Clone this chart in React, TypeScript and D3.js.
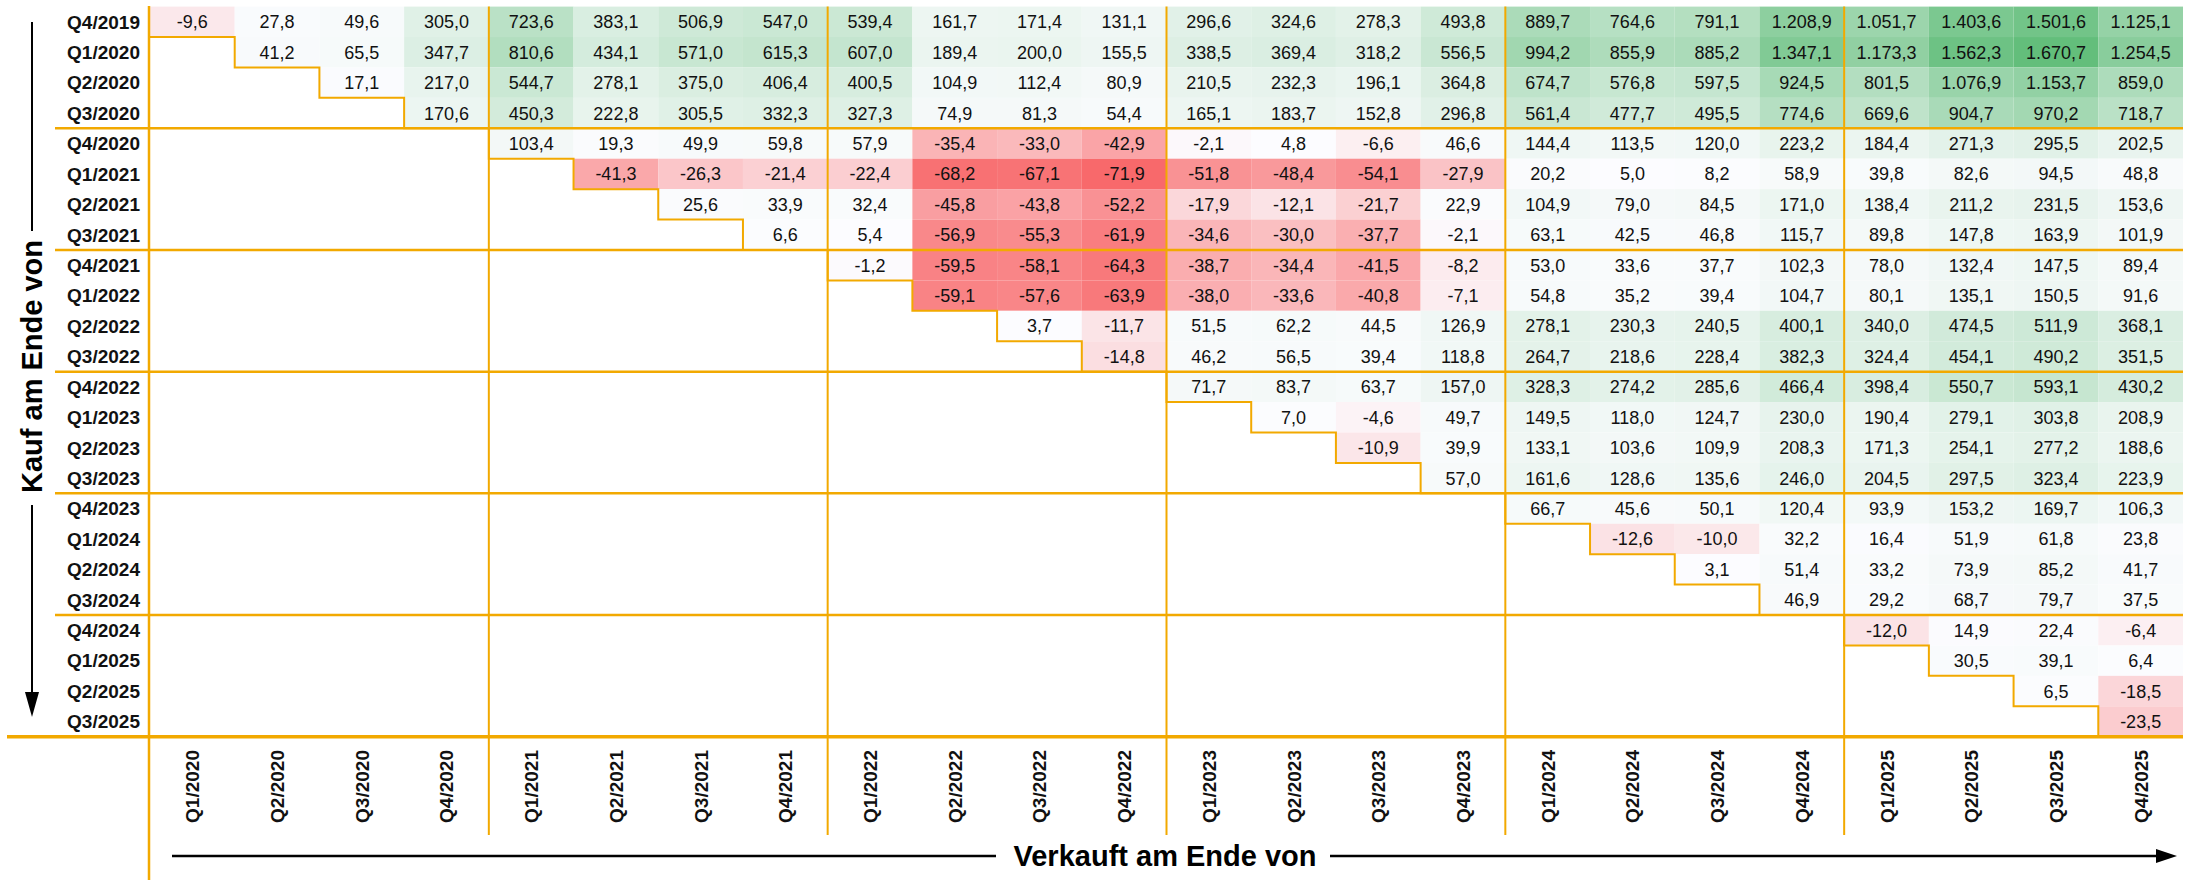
import React from 'react';
import * as d3 from 'd3';

// Kaufzeitpunkt (Zeilen) und Verkaufszeitpunkt (Spalten)
const buyQuarters = [
  'Q4/2019', 'Q1/2020', 'Q2/2020', 'Q3/2020',
  'Q4/2020', 'Q1/2021', 'Q2/2021', 'Q3/2021',
  'Q4/2021', 'Q1/2022', 'Q2/2022', 'Q3/2022',
  'Q4/2022', 'Q1/2023', 'Q2/2023', 'Q3/2023',
  'Q4/2023', 'Q1/2024', 'Q2/2024', 'Q3/2024',
  'Q4/2024', 'Q1/2025', 'Q2/2025', 'Q3/2025',
];

const sellQuarters = [
  'Q1/2020', 'Q2/2020', 'Q3/2020', 'Q4/2020',
  'Q1/2021', 'Q2/2021', 'Q3/2021', 'Q4/2021',
  'Q1/2022', 'Q2/2022', 'Q3/2022', 'Q4/2022',
  'Q1/2023', 'Q2/2023', 'Q3/2023', 'Q4/2023',
  'Q1/2024', 'Q2/2024', 'Q3/2024', 'Q4/2024',
  'Q1/2025', 'Q2/2025', 'Q3/2025', 'Q4/2025',
];

// each row starts at the sell quarter right after the buy quarter
const buyQ4_2019 = [-9.6, 27.8, 49.6, 305.0, 723.6, 383.1, 506.9, 547.0, 539.4, 161.7, 171.4, 131.1, 296.6, 324.6, 278.3, 493.8, 889.7, 764.6, 791.1, 1208.9, 1051.7, 1403.6, 1501.6, 1125.1];
const buyQ1_2020 = [41.2, 65.5, 347.7, 810.6, 434.1, 571.0, 615.3, 607.0, 189.4, 200.0, 155.5, 338.5, 369.4, 318.2, 556.5, 994.2, 855.9, 885.2, 1347.1, 1173.3, 1562.3, 1670.7, 1254.5];
const buyQ2_2020 = [17.1, 217.0, 544.7, 278.1, 375.0, 406.4, 400.5, 104.9, 112.4, 80.9, 210.5, 232.3, 196.1, 364.8, 674.7, 576.8, 597.5, 924.5, 801.5, 1076.9, 1153.7, 859.0];
const buyQ3_2020 = [170.6, 450.3, 222.8, 305.5, 332.3, 327.3, 74.9, 81.3, 54.4, 165.1, 183.7, 152.8, 296.8, 561.4, 477.7, 495.5, 774.6, 669.6, 904.7, 970.2, 718.7];
const buyQ4_2020 = [103.4, 19.3, 49.9, 59.8, 57.9, -35.4, -33.0, -42.9, -2.1, 4.8, -6.6, 46.6, 144.4, 113.5, 120.0, 223.2, 184.4, 271.3, 295.5, 202.5];
const buyQ1_2021 = [-41.3, -26.3, -21.4, -22.4, -68.2, -67.1, -71.9, -51.8, -48.4, -54.1, -27.9, 20.2, 5.0, 8.2, 58.9, 39.8, 82.6, 94.5, 48.8];
const buyQ2_2021 = [25.6, 33.9, 32.4, -45.8, -43.8, -52.2, -17.9, -12.1, -21.7, 22.9, 104.9, 79.0, 84.5, 171.0, 138.4, 211.2, 231.5, 153.6];
const buyQ3_2021 = [6.6, 5.4, -56.9, -55.3, -61.9, -34.6, -30.0, -37.7, -2.1, 63.1, 42.5, 46.8, 115.7, 89.8, 147.8, 163.9, 101.9];
const buyQ4_2021 = [-1.2, -59.5, -58.1, -64.3, -38.7, -34.4, -41.5, -8.2, 53.0, 33.6, 37.7, 102.3, 78.0, 132.4, 147.5, 89.4];
const buyQ1_2022 = [-59.1, -57.6, -63.9, -38.0, -33.6, -40.8, -7.1, 54.8, 35.2, 39.4, 104.7, 80.1, 135.1, 150.5, 91.6];
const buyQ2_2022 = [3.7, -11.7, 51.5, 62.2, 44.5, 126.9, 278.1, 230.3, 240.5, 400.1, 340.0, 474.5, 511.9, 368.1];
const buyQ3_2022 = [-14.8, 46.2, 56.5, 39.4, 118.8, 264.7, 218.6, 228.4, 382.3, 324.4, 454.1, 490.2, 351.5];
const buyQ4_2022 = [71.7, 83.7, 63.7, 157.0, 328.3, 274.2, 285.6, 466.4, 398.4, 550.7, 593.1, 430.2];
const buyQ1_2023 = [7.0, -4.6, 49.7, 149.5, 118.0, 124.7, 230.0, 190.4, 279.1, 303.8, 208.9];
const buyQ2_2023 = [-10.9, 39.9, 133.1, 103.6, 109.9, 208.3, 171.3, 254.1, 277.2, 188.6];
const buyQ3_2023 = [57.0, 161.6, 128.6, 135.6, 246.0, 204.5, 297.5, 323.4, 223.9];
const buyQ4_2023 = [66.7, 45.6, 50.1, 120.4, 93.9, 153.2, 169.7, 106.3];
const buyQ1_2024 = [-12.6, -10.0, 32.2, 16.4, 51.9, 61.8, 23.8];
const buyQ2_2024 = [3.1, 51.4, 33.2, 73.9, 85.2, 41.7];
const buyQ3_2024 = [46.9, 29.2, 68.7, 79.7, 37.5];
const buyQ4_2024 = [-12.0, 14.9, 22.4, -6.4];
const buyQ1_2025 = [30.5, 39.1, 6.4];
const buyQ2_2025 = [6.5, -18.5];
const buyQ3_2025 = [-23.5];

const rows = [
  buyQ4_2019, buyQ1_2020, buyQ2_2020, buyQ3_2020,
  buyQ4_2020, buyQ1_2021, buyQ2_2021, buyQ3_2021,
  buyQ4_2021, buyQ1_2022, buyQ2_2022, buyQ3_2022,
  buyQ4_2022, buyQ1_2023, buyQ2_2023, buyQ3_2023,
  buyQ4_2023, buyQ1_2024, buyQ2_2024, buyQ3_2024,
  buyQ4_2024, buyQ1_2025, buyQ2_2025, buyQ3_2025,
];

const W = 2199;
const H = 880;
const ORANGE = '#F2A900';
const FONT = '"Liberation Sans", Arial, sans-serif';

const de = d3.formatLocale({ decimal: ',', thousands: '.', grouping: [3], currency: ['', ''], minus: '-' });
const fmt = de.format(',.1f');

export default function App() {
  const x = d3.scaleBand().domain(sellQuarters).range([150, 2183]);
  const y = d3.scaleBand().domain(buyQuarters).range([6.6, 736.7]);
  const bw = x.bandwidth();
  const bh = y.bandwidth();

  const cells = rows.flatMap((vals, i) =>
    vals.map((v, k) => ({ buy: buyQuarters[i], sell: sellQuarters[i + k], v }))
  );
  const all = cells.map(c => c.v);
  const color = d3.scaleLinear<string>()
    .domain([d3.min(all)!, 0, d3.max(all)!])
    .range(['#F8696B', '#FCFCFF', '#63BE7B']);

  // staircase along the diagonal
  let stair = `M${x(sellQuarters[0])},${y(buyQuarters[0])! + bh}`;
  buyQuarters.forEach((b, i) => {
    stair += `H${x(sellQuarters[i])! + bw}`;
    if (i < buyQuarters.length - 1) stair += `V${y(buyQuarters[i + 1])! + bh}`;
  });

  const groupRows = [4, 8, 12, 16, 20].map(i => y(buyQuarters[i])!);
  const groupCols = [4, 8, 12, 16, 20].map(i => x(sellQuarters[i])!);
  const bottom = y(buyQuarters[23])! + bh;
  const right = x(sellQuarters[23])! + bw;

  return (
    <svg width={W} height={H} style={{ position: 'absolute', left: 0, top: 0, background: '#fff' }}
      fontFamily={FONT}>
      {cells.map((c, i) => (
        <g key={i}>
          <rect x={x(c.sell)} y={y(c.buy)} width={bw} height={bh} fill={color(c.v)} />
          <text x={x(c.sell)! + bw / 2} y={y(c.buy)! + bh / 2} dy="0.36em" textAnchor="middle"
            fontSize={18} fill="#111">{fmt(c.v)}</text>
        </g>
      ))}

      {buyQuarters.map(b => (
        <text key={b} x={140} y={y(b)! + bh / 2} dy="0.36em" textAnchor="end"
          fontSize={19} fontWeight="bold" fill="#111">{b}</text>
      ))}

      {sellQuarters.map(s => (
        <text key={s} transform={`translate(${x(s)! + bw / 2 + 7},750) rotate(-90)`} textAnchor="end"
          fontSize={19} fontWeight="bold" fill="#111">{s}</text>
      ))}

      <path d={stair} fill="none" stroke={ORANGE} strokeWidth={2} />
      {groupRows.map((gy, i) => (
        <line key={'r' + i} x1={55} x2={right} y1={gy} y2={gy} stroke={ORANGE} strokeWidth={2.5} />
      ))}
      {groupCols.map((gx, i) => (
        <line key={'c' + i} x1={gx} x2={gx} y1={6.6} y2={835} stroke={ORANGE} strokeWidth={2} />
      ))}
      <line x1={149} x2={149} y1={6} y2={H} stroke={ORANGE} strokeWidth={2.5} />
      <line x1={7} x2={right} y1={bottom} y2={bottom} stroke={ORANGE} strokeWidth={3.5} />

      {/* y axis title */}
      <line x1={32} x2={32} y1={22} y2={231} stroke="#000" strokeWidth={2} />
      <text transform="translate(42,366.5) rotate(-90)" textAnchor="middle" fontSize={29}
        fontWeight="bold" fill="#000">Kauf am Ende von</text>
      <line x1={32} x2={32} y1={505} y2={700} stroke="#000" strokeWidth={2} />
      <path d="M25,692 L39,692 L32,717 Z" fill="#000" />

      {/* x axis title */}
      <line x1={172} x2={996} y1={856} y2={856} stroke="#000" strokeWidth={2.5} />
      <text x={1165} y={866} textAnchor="middle" fontSize={29} fontWeight="bold" fill="#000">
        Verkauft am Ende von
      </text>
      <line x1={1330} x2={2160} y1={856} y2={856} stroke="#000" strokeWidth={2.5} />
      <path d="M2156,849 L2156,863 L2177,856 Z" fill="#000" />
    </svg>
  );
}
